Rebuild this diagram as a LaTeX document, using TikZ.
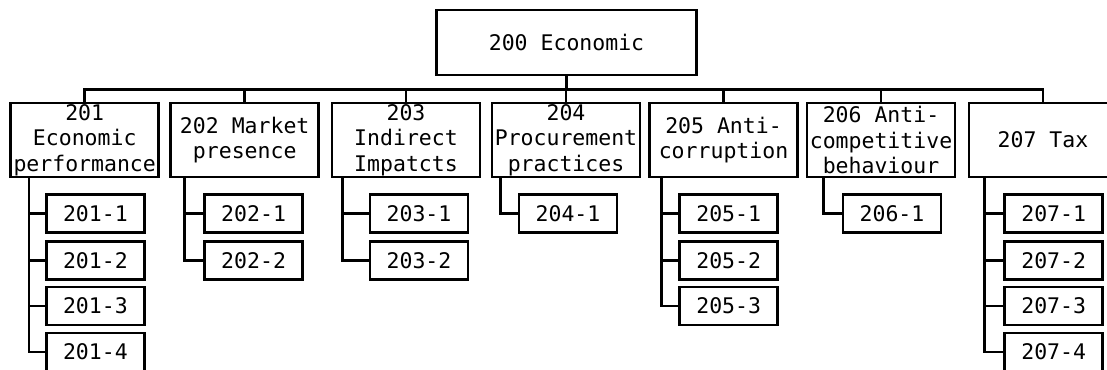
\documentclass[tikz,border=0pt]{standalone}
\usepackage{fontspec}
\setmonofont{DejaVu Sans Mono}
\begin{document}
\begin{tikzpicture}[x=1pt,y=-1pt,
  every node/.style={font=\ttfamily\fontsize{21.5}{25.5}\selectfont},
  frame/.style={draw, line width=2.6pt, inner sep=0pt, align=center},
  rootbox/.style={frame, minimum width=260pt, minimum height=65pt},
  topicbox/.style={frame, minimum width=148pt, minimum height=74pt},
  leafbox/.style={frame, minimum width=98pt, minimum height=38pt},
  conn/.style={draw, line width=2.6pt}]
\useasboundingbox (0,0) rectangle (1107,369);

% root
\node[rootbox] (root) at (566.5,42.5) {200 Economic};
\coordinate (bus) at (0,89.3);

% topic level
\node[topicbox] (n201) at (84.7,140) {201\\Economic\\performance};
\node[topicbox] (n202) at (244.7,140) {202 Market\\presence};
\node[topicbox] (n203) at (406,140) {203\\Indirect\\Impatcts};
\node[topicbox] (n204) at (566,140) {204\\Procurement\\practices};
\node[topicbox] (n205) at (723.5,140) {205 Anti-\\corruption};
\node[topicbox] (n206) at (881,140) {206 Anti-\\competitive\\behaviour};
\node[topicbox] (n207) at (1043,140) {207 Tax};

\foreach \n in {201,...,207}
  \draw[conn] (root.south) -- (root.south |- bus) -| (n\n.north);

% disclosures under each topic
\foreach \n/\cx/\off/\k in {201/95.4/19.7/4, 202/253.6/15/2, 203/419/12/2,
    204/568/10/1, 205/728.7/13.5/3, 206/892/17.6/1, 207/1053.7/17/4} {
  \foreach \i in {1,...,\k} {
    \pgfmathsetmacro\yy{{213.5,260.5,306,352}[\i-1]}
    \node[leafbox] (c\n\i) at (\cx,\yy) {\n-\i};
    \draw[conn] ([xshift=\off pt]n\n.south west) |- (c\n\i.west);
  }
}
\end{tikzpicture}
\end{document}
